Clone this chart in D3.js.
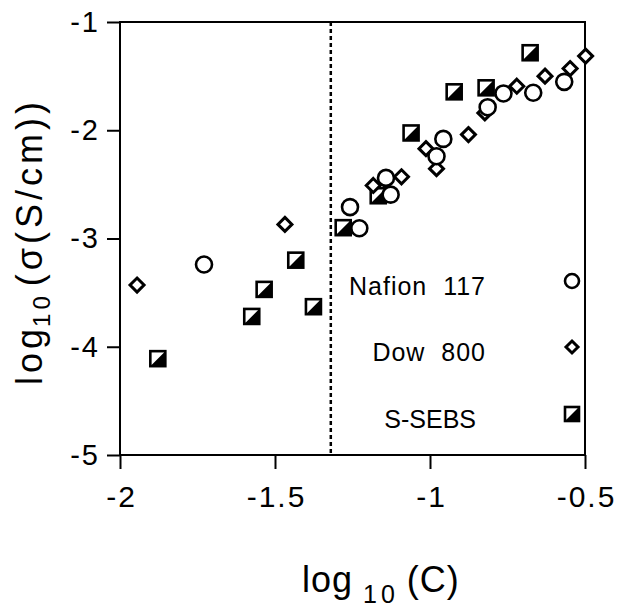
<!DOCTYPE html>
<html>
<head>
<meta charset="utf-8">
<script src="https://cdn.jsdelivr.net/npm/d3@7"></script>
<style>
  body { margin: 0; background: #fff; }
  svg { font-family: "Liberation Sans", Arial, sans-serif; }
  .legend text { white-space: pre; }
</style>
</head>
<body>
<svg id="chart" width="632" height="611"></svg>
<script>
"use strict";

// data: [log10(C), log10(sigma)]
var nafion = [
  [-1.729, -3.24], [-1.258, -2.71], [-1.228, -2.905], [-1.142, -2.44], [-1.127, -2.595],
  [-0.957, -2.08], [-0.979, -2.24], [-0.814, -1.787], [-0.763, -1.66], [-0.667, -1.654],
  [-0.567, -1.553]
];
var dow = [
  [-1.945, -3.43], [-1.468, -2.87], [-1.183, -2.51], [-1.092, -2.43], [-1.013, -2.17],
  [-0.979, -2.355], [-0.876, -2.04], [-0.823, -1.84], [-0.72, -1.593], [-0.629, -1.5],
  [-0.548, -1.43], [-0.498, -1.315]
];
var sebs = [
  [-1.878, -4.11], [-1.575, -3.72], [-1.535, -3.47], [-1.433, -3.20], [-1.376, -3.63],
  [-1.28, -2.90], [-1.167, -2.605], [-1.061, -2.025], [-0.922, -1.645], [-0.819, -1.608],
  [-0.677, -1.284]
];
var xTicks = [-2, -1.5, -1, -0.5];
var yTicks = [-1, -2, -3, -4, -5];
var thresholdC = -1.32;
var legendNames = ["Nafion  117", "Dow  800", "S-SEBS"];

var svg = d3.select('#chart');
var pLeft = 120, pRight = 585, pTop = 22, pBottom = 455;

var x = d3.scaleLinear().domain([-2, -0.5]).range([pLeft, pRight]);
var y = d3.scaleLinear().domain([-5, -1]).range([pBottom, pTop]);

// frame
svg.append('rect')
  .attr('x', pLeft).attr('y', pTop)
  .attr('width', pRight - pLeft).attr('height', pBottom - pTop)
  .attr('fill', 'none').attr('stroke', '#000').attr('stroke-width', 2);

function minus(d) { return String(d).replace('−', '-'); }

var xAxis = d3.axisBottom(x).tickValues(xTicks).tickSize(14).tickPadding(17).tickFormat(minus);
svg.append('g').attr('transform', 'translate(0,' + pBottom + ')').call(xAxis)
  .call(function(g) {
    g.select('.domain').remove();
    g.selectAll('line').attr('stroke-width', 2);
    g.selectAll('text').attr('font-size', 30).attr('fill', '#000')
      .attr('letter-spacing', 2).attr('dx', 1);
  });

var yAxis = d3.axisLeft(y).tickValues(yTicks).tickSize(13).tickPadding(7).tickFormat(minus);
svg.append('g').attr('transform', 'translate(' + pLeft + ',0)').call(yAxis)
  .call(function(g) {
    g.select('.domain').remove();
    g.selectAll('line').attr('stroke-width', 2);
    g.selectAll('text').attr('font-size', 29).attr('fill', '#000').attr('letter-spacing', 2);
  });

// dotted threshold line
svg.append('line')
  .attr('x1', x(thresholdC)).attr('x2', x(thresholdC))
  .attr('y1', pTop).attr('y2', pBottom)
  .attr('stroke', '#000').attr('stroke-width', 2.5)
  .attr('stroke-dasharray', '4,3');

// marker helpers
function circle(g, r) {
  g.append('circle').attr('r', r).attr('fill', '#fff')
    .attr('stroke', '#000').attr('stroke-width', 2.6);
}
function diamond(g, s) {
  g.append('path').attr('d', 'M0,' + (-s) + 'L' + s + ',0L0,' + s + 'L' + (-s) + ',0Z')
    .attr('fill', '#fff').attr('stroke', '#000').attr('stroke-width', 3);
}
function square(g, s) {
  g.append('rect').attr('x', -s).attr('y', -s).attr('width', 2 * s).attr('height', 2 * s)
    .attr('fill', '#fff').attr('stroke', '#000').attr('stroke-width', 2.6);
  g.append('path').attr('d', 'M' + (-s) + ',' + s + 'L' + s + ',' + (-s) + 'L' + s + ',' + s + 'Z')
    .attr('fill', '#000');
}

var plot = svg.append('g');

plot.selectAll('.sebs').data(sebs).enter().append('g')
  .attr('class', 'sebs')
  .attr('transform', function(d) { return 'translate(' + x(d[0]) + ',' + y(d[1]) + ')'; })
  .each(function() { square(d3.select(this), 7.5); });

plot.selectAll('.dow').data(dow).enter().append('g')
  .attr('class', 'dow')
  .attr('transform', function(d) { return 'translate(' + x(d[0]) + ',' + y(d[1]) + ')'; })
  .each(function() { diamond(d3.select(this), 7); });

plot.selectAll('.nafion').data(nafion).enter().append('g')
  .attr('class', 'nafion')
  .attr('transform', function(d) { return 'translate(' + x(d[0]) + ',' + y(d[1]) + ')'; })
  .each(function() { circle(d3.select(this), 8); });

// legend
var legendRows = [
  { name: legendNames[0], tx: 486, y: 281, ls: 1, draw: function(g) { circle(g, 7); } },
  { name: legendNames[1], tx: 486, y: 347, ls: 1, draw: function(g) { diamond(g, 6); } },
  { name: legendNames[2], tx: 476, y: 414, ls: 0, draw: function(g) { square(g, 7); } }
];
var legend = svg.append('g').attr('class', 'legend');
legendRows.forEach(function(r) {
  legend.append('text').attr('x', r.tx).attr('y', r.y + 14)
    .attr('text-anchor', 'end').attr('font-size', 25)
    .attr('letter-spacing', r.ls).text(r.name);
  var m = legend.append('g').attr('transform', 'translate(572,' + r.y + ')');
  r.draw(m);
});

// axis titles
var xt = svg.append('text').attr('x', 302).attr('y', 592)
  .attr('font-size', 36).attr('letter-spacing', 1);
xt.append('tspan').text('log');
xt.append('tspan').attr('dy', 11).attr('dx', 10).attr('font-size', 25)
  .attr('letter-spacing', 4).text('10');
xt.append('tspan').attr('dy', -11).attr('dx', 8).text('(C)');

var yt = svg.append('text')
  .attr('transform', 'translate(42,385) rotate(-90)')
  .attr('font-size', 36).attr('letter-spacing', 4);
yt.append('tspan').text('log');
yt.append('tspan').attr('dy', 8).attr('dx', -2).attr('font-size', 24).text('10');
yt.append('tspan').attr('dy', -8).attr('dx', 6).text('(σ(S/cm))');
</script>
</body>
</html>
